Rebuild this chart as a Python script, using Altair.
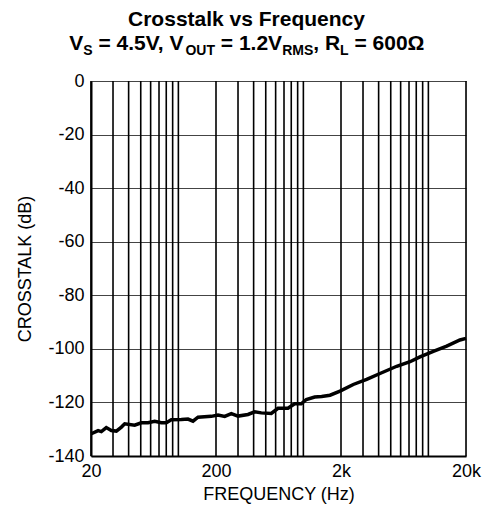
import altair as alt
import pandas as pd

# ---- data ----
FREQ = [20.1, 22.8, 24.2, 26.5, 29.1, 31.9, 35.0, 37.2, 44.7, 50.5,
        57.2, 64.7, 73.0, 80.1, 87.8, 105.6, 119.4, 130.9, 143.6, 183.4,
        207.5, 234.8, 265.2, 300, 360.6, 408, 460.6, 553.9, 626.6, 753,
        852, 962, 1056, 1232, 1400, 1633, 1964, 2507, 3210, 4102,
        5580, 7130, 8570, 10950, 14010, 17900, 20000]
CROSSTALK_DB = [-131.7, -130.5, -130.9, -129.4, -130.5, -130.7, -129.2, -128.0, -128.5, -127.6,
                -127.6, -127.0, -127.6, -127.6, -126.5, -126.4, -126.2, -127.0, -125.5, -125.2,
                -124.7, -125.2, -124.2, -125.1, -124.5, -123.5, -123.9, -124.1, -122.2, -122.2,
                -120.5, -120.5, -118.9, -118.0, -117.8, -117.3, -115.8, -113.3, -111.4, -109.2,
                -106.5, -104.8, -103.0, -100.9, -99.0, -96.7, -96.1]

GRID_FREQ = [20, 30, 40, 50, 60, 70, 80, 90, 100,
             200, 300, 400, 500, 600, 700, 800, 900, 1000,
             2000, 3000, 4000, 5000, 6000, 7000, 8000, 9000, 10000, 20000]
X_TICK_VALUES = [20, 200, 2000, 20000]
X_TICK_LABELS = ["20", "200", "2k", "20k"]
Y_TICKS = [-140, -120, -100, -80, -60, -40, -20, 0]

TITLE_1 = "Crosstalk vs Frequency"
# (text, is_subscript)
TITLE_2 = [("V", False), ("S", True), (" = 4.5V, V", False), ("OUT", True),
           (" = 1.2V", False), ("RMS", True), (", R", False), ("L", True),
           (" = 600\u03a9", False)]

FONT = "Liberation Sans"
W, H = 375, 375
MAIN_FS, SUB_FS = 21, 14

# approximate advance widths (Arial/Liberation Sans Bold, per em)
ADV = {"V": .667, "S": .667, " ": .278, "=": .584, "4": .556, ".": .278, "5": .556,
       ",": .278, "O": .778, "U": .722, "T": .611, "1": .556, "2": .556, "R": .722,
       "M": .833, "L": .611, "6": .556, "0": .556, "\u03a9": .768}


def seg_w(s, fs):
    return sum(ADV.get(c, .6) for c in s) * fs


df = pd.DataFrame({"freq": FREQ, "db": CROSSTALK_DB})
grid_df = pd.DataFrame({"freq": GRID_FREQ})

label_expr = " : ".join(
    f"datum.value == {v} ? '{l}'" for v, l in zip(X_TICK_VALUES, X_TICK_LABELS)
) + " : ''"

xscale = alt.Scale(type="log", domain=[20, 20000], nice=False)
yscale = alt.Scale(domain=[-140, 0], nice=False)

xaxis = alt.Axis(values=GRID_FREQ, labelExpr=label_expr, grid=False,
                 ticks=False, labelOverlap=False, labelFlush=False,
                 labelBound=False, labelFontSize=18, labelPadding=6,
                 labelColor="black", labelFont=FONT,
                 domainColor="black", domainWidth=2,
                 title="FREQUENCY (Hz)", titleFont=FONT, titleFontSize=18,
                 titleFontWeight="normal", titleColor="black",
                 titleBaseline="alphabetic", titleY=43)
yaxis = alt.Axis(values=Y_TICKS, labelExpr="'' + datum.value", grid=True,
                 gridColor="#444", gridWidth=1,
                 ticks=False, labelFontSize=18, labelPadding=7,
                 labelColor="black", labelFont=FONT,
                 domainColor="black", domainWidth=2,
                 title="CROSSTALK (dB)", titleFont=FONT, titleFontSize=18,
                 titleFontWeight="normal", titleColor="black",
                 titleBaseline="middle", titleX=-66, titleY=H / 2,
                 titleAngle=-90)

vgrid = alt.Chart(grid_df).mark_rule(color="black", strokeWidth=1.6).encode(
    x=alt.X("freq:Q", scale=xscale, axis=xaxis)
)

line = alt.Chart(df).mark_line(color="black", strokeWidth=3.5).encode(
    x=alt.X("freq:Q", scale=xscale, axis=xaxis),
    y=alt.Y("db:Q", scale=yscale, axis=yaxis),
)

one = pd.DataFrame({"k": [0]})
texts = []
center = 246.5 - 91
texts.append(alt.Chart(one).mark_text(text=TITLE_1, font=FONT, fontSize=MAIN_FS,
                                      fontWeight="bold", align="center",
                                      baseline="alphabetic", color="black")
             .encode(x=alt.value(center), y=alt.value(-55)))

total = sum(seg_w(t, SUB_FS if s else MAIN_FS) for t, s in TITLE_2)
xpos = center - total / 2
for t, s in TITLE_2:
    fs = SUB_FS if s else MAIN_FS
    lead = len(t) - len(t.lstrip(" "))
    x0 = xpos + seg_w(t[:lead], fs)
    texts.append(alt.Chart(one).mark_text(text=t.strip(), font=FONT, fontSize=fs,
                                          fontWeight="bold", align="left",
                                          baseline="alphabetic", color="black")
                 .encode(x=alt.value(x0), y=alt.value(-26 if s else -31)))
    xpos += seg_w(t, fs)

chart = alt.layer(vgrid, line, *texts).properties(
    width=W, height=H,
    autosize=alt.AutoSizeParams(type="none"),
    padding={"left": 83, "top": 73, "right": 24, "bottom": 49},
).configure_view(stroke="black", strokeWidth=1.5).configure(background="white")

chart.save("out.html", embed_options={"renderer": "svg", "actions": False})
